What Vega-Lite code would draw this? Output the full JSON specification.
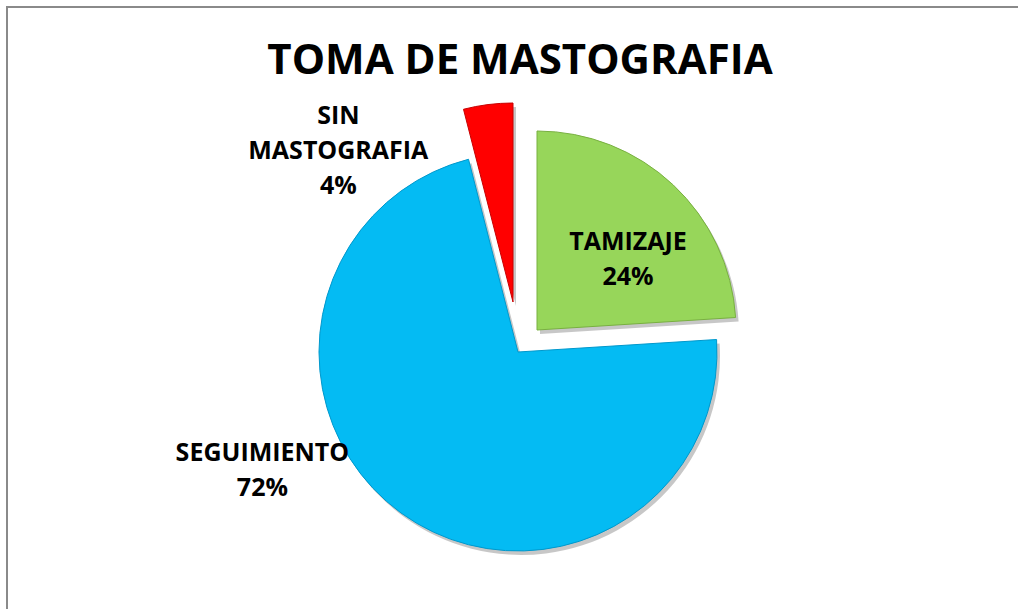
{
  "$schema": "https://vega.github.io/schema/vega-lite/v6.json",
  "width": 1040,
  "height": 690,
  "autosize": "none",
  "padding": {"left": 7, "top": 7, "right": -29, "bottom": -88},
  "background": "white",
  "view": {"stroke": "#8a8a8a", "strokeWidth": 2, "strokeDash": [1011, 1613, 2000]},
  "title": {
    "text": "TOMA DE MASTOGRAFIA",
    "font": "Open Sans",
    "fontSize": 42,
    "fontWeight": "bold",
    "color": "#000000",
    "anchor": "middle",
    "frame": "group",
    "baseline": "alphabetic",
    "offset": -118,
    "dx": -7
  },
  "data": {
    "values": [
      {"categoria": "TAMIZAJE", "orden": 1, "porcentaje": 24, "etiqueta": "TAMIZAJE\n24%"},
      {"categoria": "SEGUIMIENTO", "orden": 2, "porcentaje": 72, "etiqueta": "SEGUIMIENTO\n72%"},
      {"categoria": "SIN MASTOGRAFIA", "orden": 3, "porcentaje": 4, "etiqueta": "SIN\nMASTOGRAFIA\n4%"}
    ]
  },
  "encoding": {
    "theta": {"field": "porcentaje", "type": "quantitative", "stack": true},
    "order": {"field": "orden", "type": "quantitative", "sort": "ascending"}
  },
  "layer": [
    {
      "mark": {"type": "arc", "radius": 199, "fill": "#000000", "xOffset": -6, "yOffset": 4},
      "encoding": {"opacity": {"condition": {"test": "datum.categoria === 'SEGUIMIENTO'", "value": 0.22}, "value": 0}}
    },
    {
      "mark": {"type": "arc", "radius": 199, "fill": "#000000", "xOffset": 13, "yOffset": -18},
      "encoding": {"opacity": {"condition": {"test": "datum.categoria === 'TAMIZAJE'", "value": 0.22}, "value": 0}}
    },
    {
      "mark": {"type": "arc", "radius": 199, "fill": "#000000", "xOffset": -11, "yOffset": -46},
      "encoding": {"opacity": {"condition": {"test": "datum.categoria === 'SIN MASTOGRAFIA'", "value": 0.22}, "value": 0}}
    },
    {
      "mark": {"type": "arc", "radius": 199, "fill": "#04BBF3", "stroke": "#0098CC", "strokeWidth": 1, "xOffset": -9},
      "encoding": {"opacity": {"condition": {"test": "datum.categoria === 'SEGUIMIENTO'", "value": 1}, "value": 0}}
    },
    {
      "mark": {"type": "arc", "radius": 199, "fill": "#97D65A", "stroke": "#78B040", "strokeWidth": 1, "xOffset": 10, "yOffset": -22},
      "encoding": {"opacity": {"condition": {"test": "datum.categoria === 'TAMIZAJE'", "value": 1}, "value": 0}}
    },
    {
      "mark": {"type": "arc", "radius": 199, "fill": "#FF0000", "stroke": "#C80000", "strokeWidth": 1, "xOffset": -14, "yOffset": -50},
      "encoding": {"opacity": {"condition": {"test": "datum.categoria === 'SIN MASTOGRAFIA'", "value": 1}, "value": 0}}
    },
    {
      "mark": {"type": "text", "radius": 114, "font": "Open Sans", "fontSize": 25, "fontWeight": "bold", "color": "#000000", "lineBreak": "\n", "lineHeight": 35, "align": "center", "baseline": "middle", "dx": 23, "dy": -27},
      "encoding": {"text": {"condition": {"test": "datum.categoria === 'TAMIZAJE'", "field": "etiqueta"}, "value": ""}}
    },
    {
      "mark": {"type": "text", "radius": 246, "font": "Open Sans", "fontSize": 25, "fontWeight": "bold", "color": "#000000", "lineBreak": "\n", "lineHeight": 35, "align": "center", "baseline": "middle", "dx": -120, "dy": -98},
      "encoding": {"text": {"condition": {"test": "datum.categoria === 'SEGUIMIENTO'", "field": "etiqueta"}, "value": ""}}
    },
    {
      "mark": {"type": "text", "radius": 173, "font": "Open Sans", "fontSize": 25, "fontWeight": "bold", "color": "#000000", "lineBreak": "\n", "lineHeight": 35, "align": "center", "baseline": "middle", "dx": -167, "dy": -64},
      "encoding": {"text": {"condition": {"test": "datum.categoria === 'SIN MASTOGRAFIA'", "field": "etiqueta"}, "value": ""}}
    }
  ]
}
